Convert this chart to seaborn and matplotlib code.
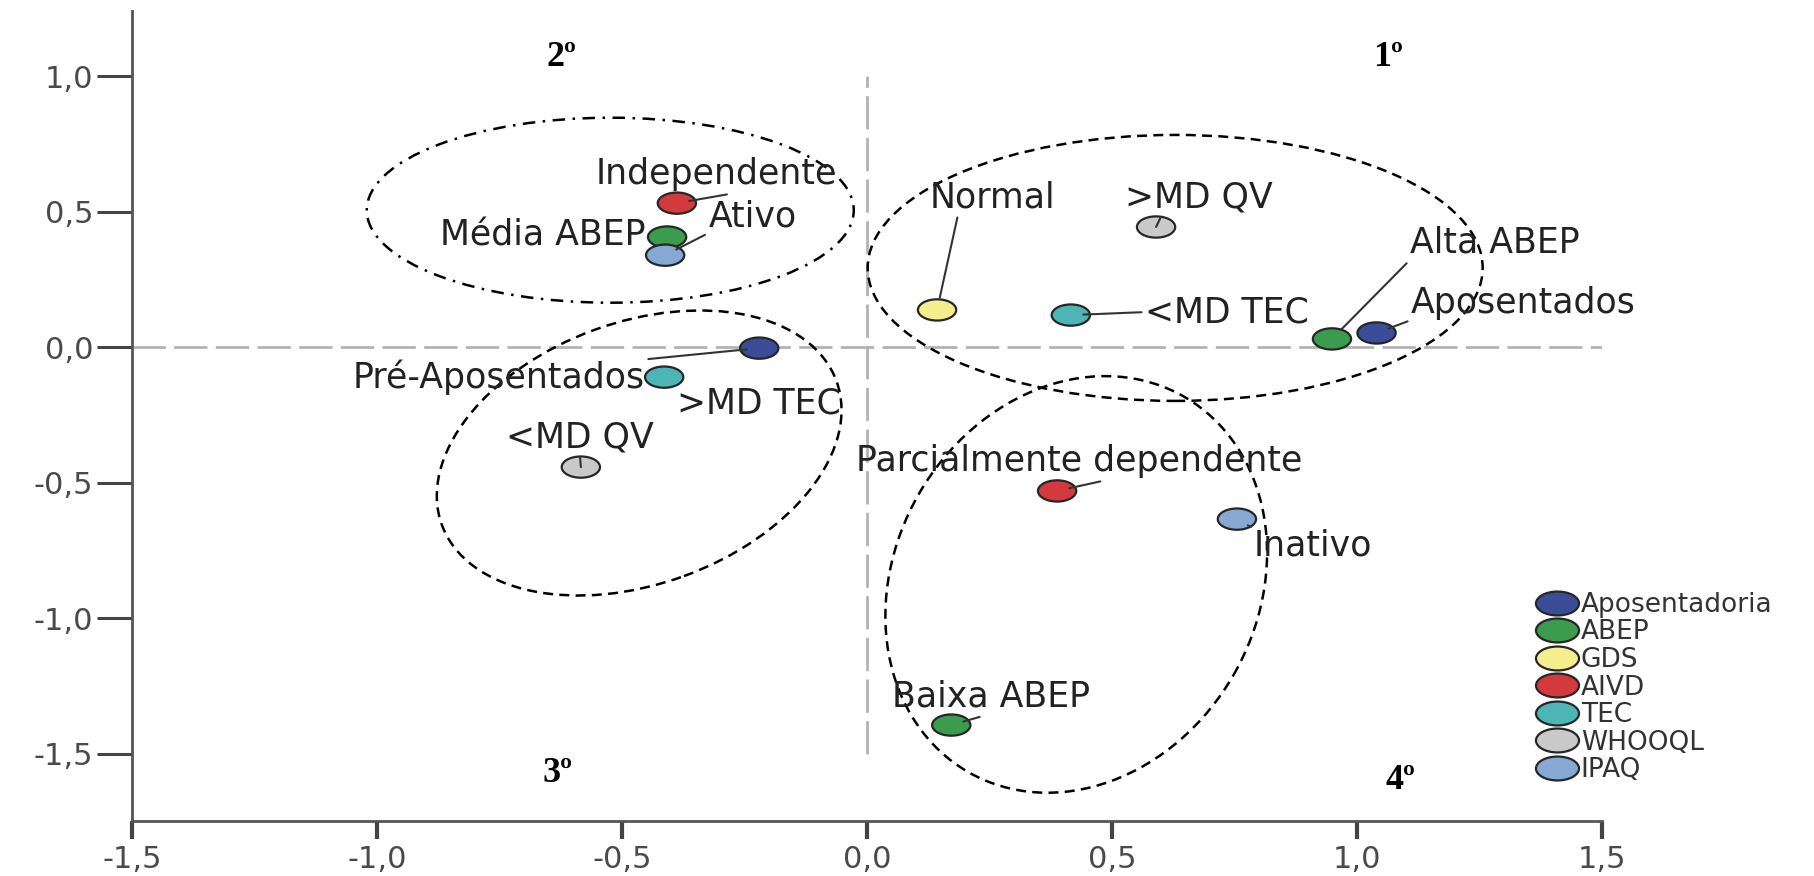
import numpy as np
import pandas as pd
import seaborn as sns
import matplotlib.pyplot as plt
import matplotlib.transforms as mtransforms
from matplotlib.path import Path
from matplotlib.patches import Ellipse
from matplotlib.lines import Line2D

# categorias e coordenadas (dimensao 1 x dimensao 2)
rotulos = ['Aposentados', 'Pré-Aposentados', 'Alta ABEP', 'Média ABEP', 'Baixa ABEP',
           'Normal', 'Independente', 'Parcialmente dependente', '<MD TEC', '>MD TEC',
           '>MD QV', '<MD QV', 'Ativo', 'Inativo']
grupo = ['Aposentadoria', 'Aposentadoria', 'ABEP', 'ABEP', 'ABEP', 'GDS', 'AIVD', 'AIVD',
         'TEC', 'TEC', 'WHOOQL', 'WHOOQL', 'IPAQ', 'IPAQ']
dim1 = [1.04, -0.22, 0.949, -0.408, 0.172, 0.143, -0.388, 0.388, 0.416, -0.414, 0.59, -0.584, -0.412, 0.755]
dim2 = [0.052, -0.004, 0.03, 0.406, -1.395, 0.137, 0.531, -0.531, 0.118, -0.111, 0.443, -0.443, 0.339, -0.635]

grupos = ['Aposentadoria', 'ABEP', 'GDS', 'AIVD', 'TEC', 'WHOOQL', 'IPAQ']
cores = ['#3b4d98', '#3a9c4c', '#f4ef8c', '#d33a3e', '#4db5b5', '#c9c9c9', '#87a8d2']
ticks = [-1.5, -1.0, -0.5, 0.0, 0.5, 1.0, 1.5]
tick_txt = ['-1,5', '-1,0', '-0,5', '0,0', '0,5', '1,0', '1,5']

df = pd.DataFrame({'x': dim1, 'y': dim2, 'grupo': grupo, 'rotulo': rotulos})

sns.set_theme(style='white')
plt.rcParams['font.family'] = ['DejaVu Sans']

fig = plt.figure(figsize=(18.14, 8.76), dpi=100)
ax = fig.add_axes([0.0728, 0.0628, 0.8103, 0.9246])

circ = Path.unit_circle()
oval = Path(circ.vertices * np.array([1.8, 1.0]), circ.codes)

ax.vlines(0, -1.5, 1.0, colors='#b3b3b3', lw=2, linestyles=(0, (12, 3)), zorder=1)
ax.hlines(0, -1.5, 1.5, colors='#b3b3b3', lw=2, linestyles=(0, (12, 3)), zorder=1)

sns.scatterplot(data=df, x='x', y='y', hue='grupo', hue_order=grupos,
                palette=dict(zip(grupos, cores)), marker=oval, s=760,
                edgecolor='#262626', linewidth=1.6, legend=False, ax=ax, zorder=4)

# posicao dos rotulos: (x, y, ha, relpos da linha ou None)
pos = {
    'Aposentados': (1.11, 0.162, 'left', (0, 0)),
    'Pré-Aposentados': (-0.453, -0.111, 'right', (1, 1)),
    'Alta ABEP': (1.108, 0.384, 'left', (0, 0)),
    'Média ABEP': (-0.451, 0.41, 'right', None),
    'Baixa ABEP': (0.051, -1.29, 'left', (0.5, 0)),
    'Normal': (0.127, 0.553, 'left', (0.23, 0)),
    'Independente': (-0.553, 0.638, 'left', (0.62, 0)),
    'Parcialmente dependente': (-0.022, -0.421, 'left', (0.58, 0)),
    '<MD TEC': (0.567, 0.129, 'left', (0, 0.5)),
    '>MD TEC': (-0.388, -0.21, 'left', None),
    '>MD QV': (0.527, 0.553, 'left', (0.25, 0)),
    '<MD QV': (-0.737, -0.332, 'left', (0.5, 0)),
    'Ativo': (-0.324, 0.483, 'left', (0, 0)),
    'Inativo': (0.79, -0.734, 'left', (0, 1)),
}
for r, x, y in zip(rotulos, dim1, dim2):
    tx, ty, ha, rp = pos[r]
    arrow = None
    if rp is not None:
        arrow = dict(arrowstyle='-', color='#333333', lw=1.5, shrinkA=0, shrinkB=9, relpos=rp)
    ax.annotate(r, xy=(x, y), xytext=(tx, ty), ha=ha, va='center', fontsize=25,
                color='#222222', arrowprops=arrow, zorder=5)

# agrupamentos tracejados (tamanhos em pixels)
def grupo_elipse(cx, cy, w, h, ang, ls):
    tr = mtransforms.ScaledTranslation(cx, cy, ax.transData)
    e = Ellipse((0, 0), w, h, angle=ang, fill=False, edgecolor='black', lw=1.8,
                linestyle=ls, transform=mtransforms.IdentityTransform() + tr, zorder=3)
    ax.add_patch(e)

grupo_elipse(-0.524, 0.505, 487, 185, 0, (0, (5, 3, 1, 3)))
grupo_elipse(0.629, 0.292, 615, 266, 0, (0, (4, 2.5)))
grupo_elipse(-0.465, -0.391, 420, 262, 20, (0, (4, 2.5)))
grupo_elipse(0.427, -0.876, 433, 363, 60, (0, (4, 2.5)))

for q, qx, qy in [('2º', -0.623, 1.07), ('1º', 1.063, 1.07), ('3º', -0.631, -1.575), ('4º', 1.088, -1.6)]:
    ax.text(qx, qy, q, ha='center', va='center', fontsize=26, fontweight='bold',
            family='Liberation Serif', color='black')

ax.set_xlim(-1.5, 1.5)
ax.set_ylim(-1.749, 1.24)
ax.set_xticks(ticks, tick_txt)
ax.set_yticks(ticks[:-1], tick_txt[:-1])
ax.set_xlabel('')
ax.set_ylabel('')
sns.despine(ax=ax)
for s in ['left', 'bottom']:
    ax.spines[s].set_color('#555555')
    ax.spines[s].set_linewidth(2)
ax.tick_params(axis='y', length=25, width=2.2, color='#444444', labelsize=22, labelcolor='#4a4a4a', pad=3, left=True)
ax.tick_params(axis='x', length=13, width=3, color='#444444', labelsize=22, labelcolor='#4a4a4a', pad=4, bottom=True)

handles = [Line2D([], [], ls='', marker=oval, markersize=31, markerfacecolor=c,
                  markeredgecolor='#262626', markeredgewidth=1.6) for c in cores]
ax.legend(handles, grupos, loc='upper left', bbox_to_anchor=(0.955, 0.283), frameon=False,
          borderpad=0, borderaxespad=0, handletextpad=0.1, handlelength=1.6, labelspacing=0.06,
          fontsize=19, labelcolor='#333333')

fig.savefig('out.png', dpi=100)
